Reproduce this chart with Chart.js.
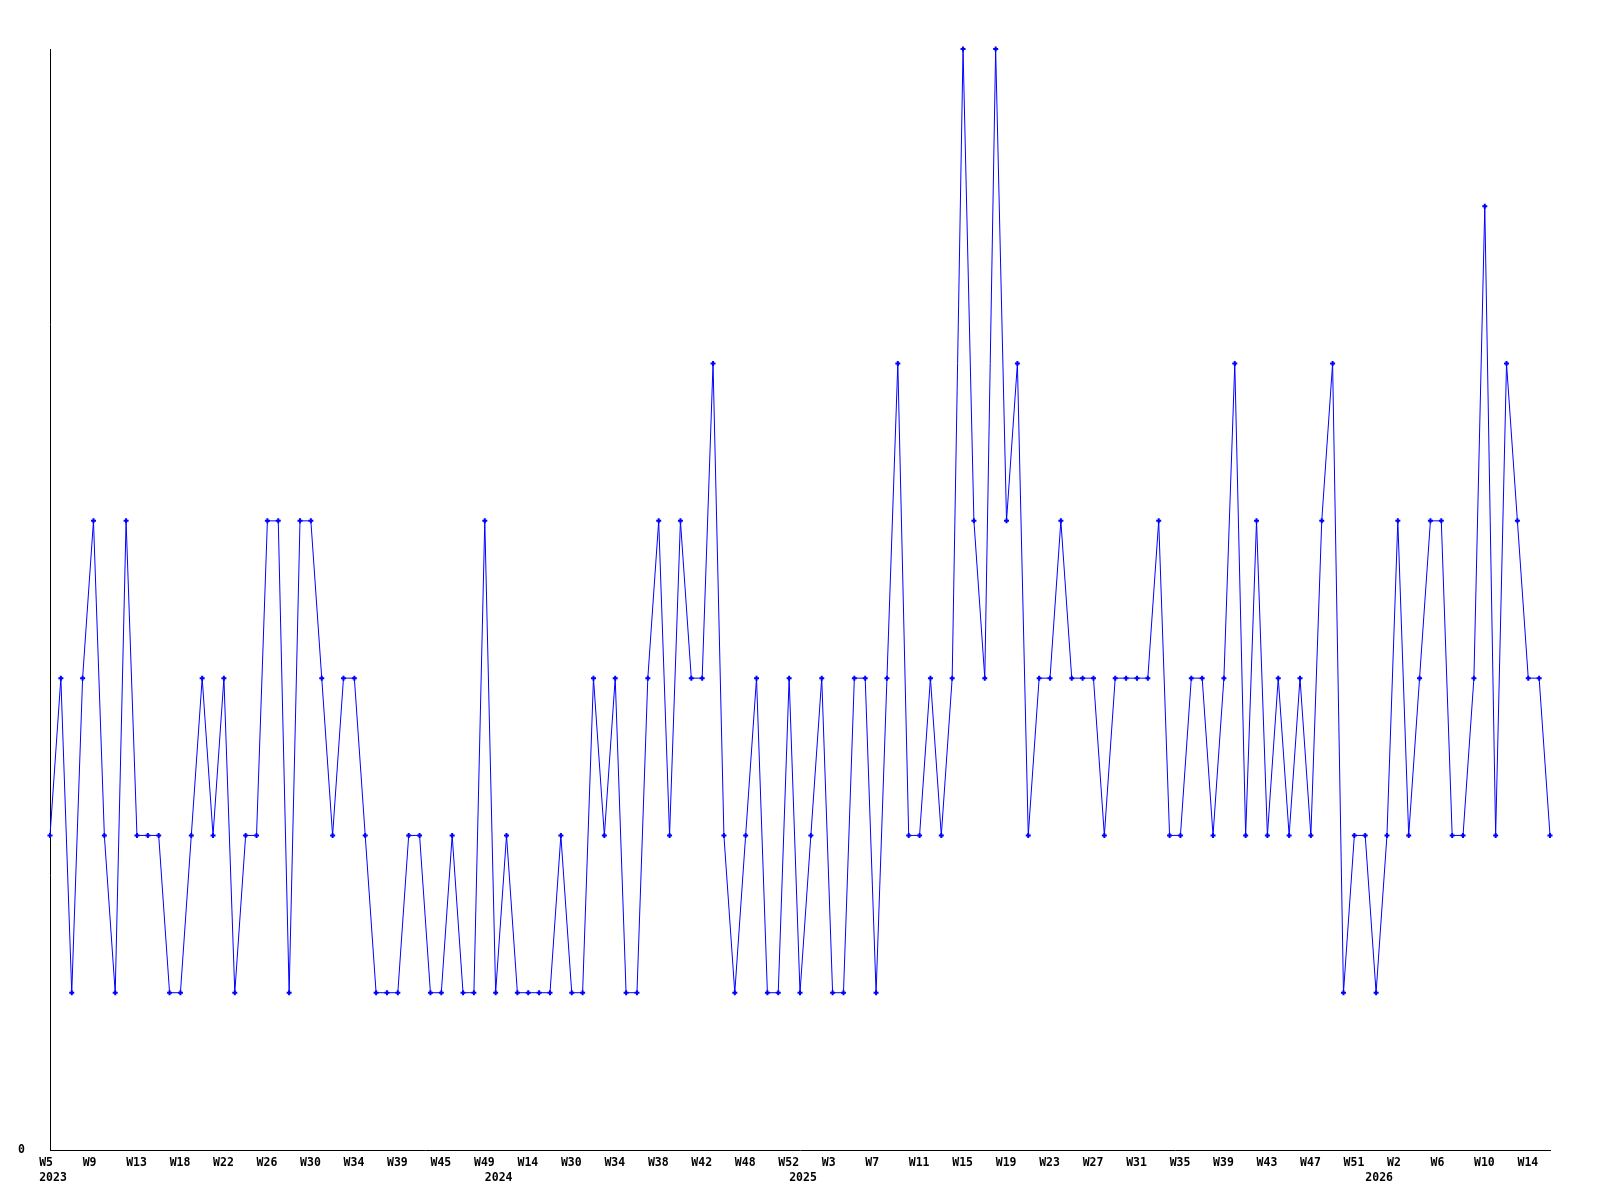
<!DOCTYPE html>
<html>
<head>
<meta charset="utf-8">
<script src="https://cdn.jsdelivr.net/npm/chart.js@4.4.1/dist/chart.umd.min.js"></script>
<style>
  html, body { margin: 0; padding: 0; background: #fff; }
  #wrap { width: 1600px; height: 1200px; }
</style>
</head>
<body>
<div id="wrap"><canvas id="weekly-chart"></canvas></div>
<script>
// week numbers on the x axis, in order (weeks without data are absent)
const weekNumbers = [
  // 2023
  5, 6, 7, 8, 9, 10, 11, 12, 13, 14, 15, 16, 18, 19, 20, 21, 22, 23, 24, 25,
  26, 27, 28, 29, 30, 31, 32, 33, 34, 35, 36, 37, 39, 40, 41, 43, 45, 46, 47, 48, 49,
  // 2024
  11, 12, 13, 14, 17, 21, 26, 30, 31, 32, 33, 34, 35, 36, 37, 38, 39, 40, 41, 42,
  43, 44, 46, 48, 49, 50, 51, 52,
  // 2025
  0, 1, 2, 3, 4, 5, 6, 7, 8, 9, 10, 11, 12, 13, 14, 15, 16, 17, 18, 19, 20, 21, 22,
  23, 24, 25, 26, 27, 28, 29, 30, 31, 32, 33, 34, 35, 36, 37, 38, 39, 40, 41, 42, 43,
  44, 45, 46, 47, 48, 49, 50, 51, 52,
  // 2026
  0, 1, 2, 3, 4, 5, 6, 7, 8, 9, 10, 11, 12, 13, 14, 15, 16
];

// year label and the index of the first week of that year
const yearLabels = ["2023", "2024", "2025", "2026"];
const yearStarts = [0, 41, 69, 122];

// count per week
const counts = [
  2, 3, 1, 3, 4, 2, 1, 4, 2, 2,
  2, 1, 1, 2, 3, 2, 3, 1, 2, 2,
  4, 4, 1, 4, 4, 3, 2, 3, 3, 2,
  1, 1, 1, 2, 2, 1, 1, 2, 1, 1,
  4, 1, 2, 1, 1, 1, 1, 2, 1, 1,
  3, 2, 3, 1, 1, 3, 4, 2, 4, 3,
  3, 5, 2, 1, 2, 3, 1, 1, 3, 1,
  2, 3, 1, 1, 3, 3, 1, 3, 5, 2,
  2, 3, 2, 3, 7, 4, 3, 7, 4, 5,
  2, 3, 3, 4, 3, 3, 3, 2, 3, 3,
  3, 3, 4, 2, 2, 3, 3, 2, 3, 5,
  2, 4, 2, 3, 2, 3, 2, 4, 5, 1,
  2, 2, 1, 2, 4, 2, 3, 4, 4, 2,
  2, 3, 6, 2, 5, 4, 3, 3, 2
];

const yTickLabels = [0];
const labelEvery = 4;

// build category names like "2024 W14"
const categories = weekNumbers.map((w, i) => {
  let y = 0;
  yearStarts.forEach((s, k) => { if (i >= s) y = k; });
  return yearLabels[y] + " W" + w;
});

const tickFont = { family: "DejaVu Sans Mono", weight: "bold", size: 11.5, lineHeight: 1.25 };

const weeklyChart = new Chart(document.getElementById("weekly-chart"), {
  type: "line",
  data: {
    labels: categories,
    datasets: [
      {
        data: counts,
        borderColor: "#0000ff",
        backgroundColor: "#0000ff",
        borderWidth: 1,
        tension: 0,
        fill: false,
        pointStyle: "cross",
        pointRadius: 2.5,
        pointBorderWidth: 2,
        pointBorderColor: "#0000ff",
        clip: false,
      },
    ],
  },
  options: {
    responsive: true,
    maintainAspectRatio: false,
    animation: false,
    layout: { padding: { top: 49, right: 50, bottom: 0, left: 0 } },
    plugins: {
      legend: { display: false },
      tooltip: { enabled: false },
    },
    scales: {
      x: {
        type: "category",
        offset: false,
        grid: { display: false, drawTicks: false },
        border: { display: true, color: "#000", width: 1 },
        afterFit: (scale) => { scale.height = 50; },
        ticks: {
          autoSkip: false,
          maxRotation: 0,
          minRotation: 0,
          align: "start",
          labelOffset: -10.8,
          padding: 6,
          color: "#000",
          font: tickFont,
          callback: (value, index) => {
            const week = index % labelEvery === 0 ? "W" + weekNumbers[index] : "";
            const y = yearStarts.indexOf(index);
            return [week, y >= 0 ? yearLabels[y] : ""];
          },
        },
      },
      y: {
        min: 0,
        max: 7,
        grid: { display: false, drawTicks: false },
        border: { display: true, color: "#000", width: 1 },
        afterFit: (scale) => { scale.width = 50; },
        ticks: {
          stepSize: 1,
          padding: 25,
          color: "#000",
          font: tickFont,
          callback: (value) => (yTickLabels.includes(value) ? String(value) : null),
        },
      },
    },
  },
});
</script>
</body>
</html>
